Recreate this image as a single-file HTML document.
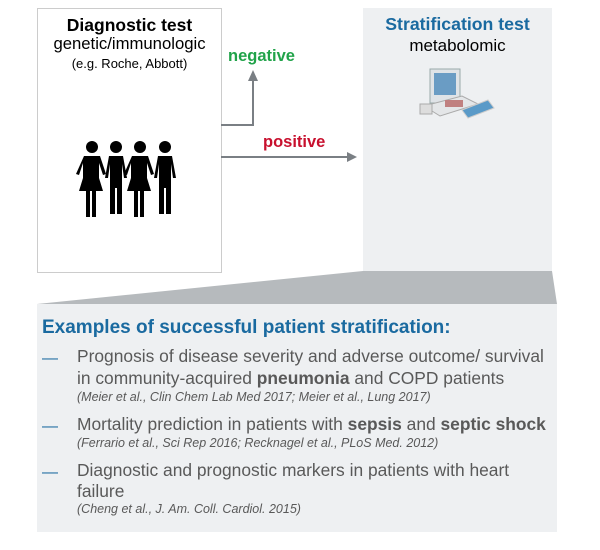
<!DOCTYPE html>
<html><head><style>
body{margin:0;width:600px;height:550px;background:#fff;font-family:"Liberation Sans",sans-serif;position:relative;overflow:hidden}
.a{position:absolute}
.t{white-space:nowrap;line-height:1}
.m{font-size:17.4px;color:#595959;left:77px}
.c{font-size:12.5px;font-style:italic;color:#595959;left:77px}
.d{left:42px;color:#1a6aa0;font-size:16px}
</style></head><body>
<div class="a" style="left:37px;top:8px;width:183px;height:263px;border:1px solid #ccc"></div>
<div class="a" style="left:363px;top:8px;width:189px;height:264px;background:#eef0f2"></div>
<svg class="a" style="left:0;top:0" width="600" height="550">
<polygon points="363,271 552,271 557,304 37,304" fill="#b6babd"/>
<polyline points="221,125 253,125 253,80" fill="none" stroke="#7a7f84" stroke-width="2"/>
<polygon points="248,81 258,81 253,70" fill="#7a7f84"/>
<line x1="221" y1="157" x2="348" y2="157" stroke="#7a7f84" stroke-width="2"/>
<polygon points="347,152 347,162 357,157" fill="#7a7f84"/>
<g fill="#000">
<g id="p"><circle cx="92" cy="147" r="6"/><path d="M84,156 h16 l6,18 -3,1 -4,-12 v15 l4,13 h-7 v26 h-4 v-26 h-2 v26 h-4 v-26 h-7 l4,-13 v-15 l-4,12 -3,-1z"/></g>
<g transform="translate(24,0)"><circle cx="92" cy="147" r="6"/><path d="M85,156 h14 l4,22 h-3 l-2,-14 v50 h-5 v-26 h-2 v26 h-5 v-50 l-2,14 h-3z"/></g>
<use href="#p" transform="translate(48,0)"/>
<g transform="translate(73,0)"><circle cx="92" cy="147" r="6"/><path d="M85,156 h14 l4,22 h-3 l-2,-14 v50 h-5 v-26 h-2 v26 h-5 v-50 l-2,14 h-3z"/></g>
</g>
<g>
<rect x="430" y="69" width="30" height="34" fill="#dfe3e7" stroke="#9aa" stroke-width="1"/>
<rect x="434" y="73" width="22" height="22" fill="#6a9cc4"/>
<polygon points="424,106 462,96 478,104 440,116" fill="#e4e6e8" stroke="#aaa"/>
<rect x="445" y="100" width="18" height="7" fill="#c08080"/>
<polygon points="462,110 488,100 494,108 468,118" fill="#5a9ac8" stroke="#ccc"/>
<rect x="420" y="104" width="12" height="10" fill="#ddd" stroke="#aaa"/>
</g>
</svg>
<div class="a t" style="left:37px;width:185px;text-align:center;top:17px;font-size:17.5px;font-weight:bold">Diagnostic test</div>
<div class="a t" style="left:37px;width:185px;text-align:center;top:36px;font-size:16.7px">genetic/immunologic</div>
<div class="a t" style="left:37px;width:185px;text-align:center;top:57px;font-size:13px">(e.g. Roche, Abbott)</div>
<div class="a t" style="left:228px;top:48px;font-size:16.5px;font-weight:bold;color:#21a34a">negative</div>
<div class="a t" style="left:263px;top:134px;font-size:16.5px;font-weight:bold;color:#c8102e">positive</div>
<div class="a t" style="left:363px;width:189px;text-align:center;top:16px;font-size:17.7px;font-weight:bold;color:#1a6aa0">Stratification test</div>
<div class="a t" style="left:363px;width:189px;text-align:center;top:37px;font-size:17px">metabolomic</div>
<div class="a" style="left:37px;top:304px;width:520px;height:228px;background:#eef0f2"></div>
<div class="a t" style="left:42px;top:318px;font-size:19px;font-weight:bold;color:#1a6aa0">Examples of successful patient stratification:</div>
<div class="a d t" style="top:351px">—</div>
<div class="a t m" style="top:348px">Prognosis of disease severity and adverse outcome/ survival</div>
<div class="a t m" style="top:370px">in community-acquired <b>pneumonia</b> and COPD patients</div>
<div class="a t c" style="top:391px">(Meier et al., Clin Chem Lab Med 2017; Meier et al., Lung 2017)</div>
<div class="a d t" style="top:419px">—</div>
<div class="a t m" style="top:416px">Mortality prediction in patients with <b>sepsis</b> and <b>septic shock</b></div>
<div class="a t c" style="top:437px">(Ferrario et al., Sci Rep 2016; Recknagel et al., PLoS Med. 2012)</div>
<div class="a d t" style="top:465px">—</div>
<div class="a t m" style="top:462px">Diagnostic and prognostic markers in patients with heart</div>
<div class="a t m" style="top:483px">failure</div>
<div class="a t c" style="top:503px">(Cheng et al., J. Am. Coll. Cardiol. 2015)</div>
</body></html>
